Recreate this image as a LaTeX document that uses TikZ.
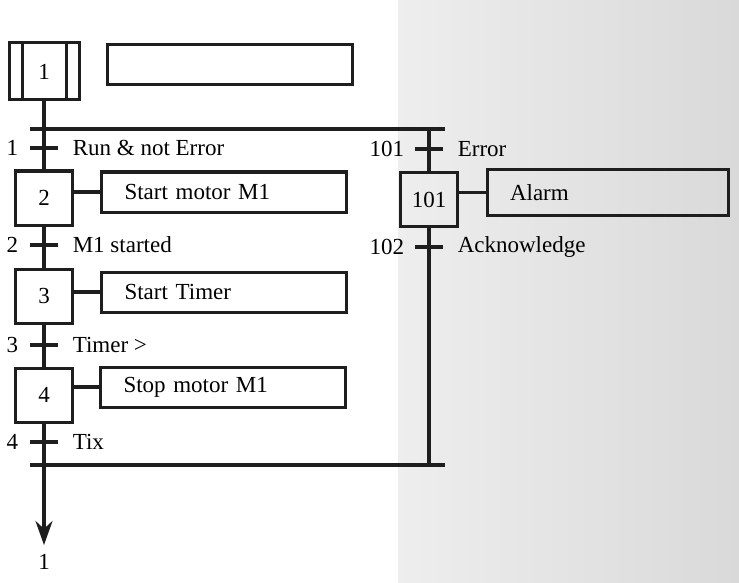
\documentclass[tikz,border=0pt]{standalone}
\usepackage{fontspec}
\setmainfont{Liberation Serif}
\usepackage{tikz}
\usetikzlibrary{arrows.meta,positioning,calc}
\definecolor{Ink}{HTML}{1E1E1E}
\definecolor{Scan}{HTML}{D9D9D9}
\newcommand{\grafcetfont}{\fontsize{11.5}{13}\selectfont}
\tikzset{
  stepbox/.style={draw=Ink,line width=1.5pt,minimum width=28.5pt,minimum height=27pt,
              inner sep=0pt,font=\grafcetfont},
  initbox/.style={stepbox,minimum width=35pt,minimum height=28.5pt,
              path picture={\draw[line width=1.5pt,draw=Ink]
                ([xshift=-11pt]path picture bounding box.north) -- ([xshift=-11pt]path picture bounding box.south)
                ([xshift=11pt]path picture bounding box.north) -- ([xshift=11pt]path picture bounding box.south);}},
  actbox/.style={draw=Ink,line width=1.5pt,minimum height=20pt,text width=99.5pt,
              inner xsep=11.5pt,inner ysep=0pt,align=left,font=\grafcetfont},
  trans/.style={fill=Ink,minimum width=14pt,minimum height=1.8pt,inner sep=0pt},
  tlabel/.style={inner sep=0pt,font=\grafcetfont},
  wire/.style={draw=Ink,line width=1.6pt},
  bar/.style={draw=Ink,line width=1.8pt},
  flow/.style={-{Stealth[length=12pt,width=8.5pt]},wire}
}
\begin{document}
\begin{tikzpicture}[x=0.5pt,y=-0.5pt]
  \useasboundingbox (0,0) rectangle (739,583);
  \shade[left color=Scan!45,right color=Scan] (398,0) rectangle (739,583);
  % main sequence
  \node[initbox] (s1) at (44,71.5) {1};
  \node[actbox] (a1) at (230,65) {};
  \node[trans] (t1) at (44,148) {};
  \node[stepbox] (s2) at (44,198) {2};
  \node[actbox] (a2) at (224,192) {Start motor M1};
  \node[trans] (t2) at (44,245) {};
  \node[stepbox] (s3) at (44,296) {3};
  \node[actbox] (a3) at (224,292) {Start Timer};
  \node[trans] (t3) at (44,345) {};
  \node[stepbox] (s4) at (44,395) {4};
  \node[actbox] (a4) at (223,387) {Stop motor M1};
  \node[trans] (t4) at (44,442) {};
  % error branch
  \node[trans] (t101) at (429,149) {};
  \node[stepbox] (s101) at (429,199.5) {101};
  \node[actbox,minimum height=22.5pt,text width=97.5pt] (a101) at (607.5,192.5) {Alarm};
  \node[trans] (t102) at (429,247) {};
  % transition labels
  \node[tlabel,left=5.5pt of t1] (n1) {1};
  \node[tlabel,right=7pt of t1] (c1) {Run \& not Error};
  \node[tlabel,left=5.5pt of t2] (n2) {2};
  \node[tlabel,right=7pt of t2] (c2) {M1 started};
  \node[tlabel,left=5.5pt of t3] (n3) {3};
  \node[tlabel,right=7pt of t3] (c3) {Timer >};
  \node[tlabel,left=5.5pt of t4] (n4) {4};
  \node[tlabel,right=7pt of t4] (c4) {Tix};
  \node[tlabel,left=5pt of t101] (n101) {101};
  \node[tlabel,right=7pt of t101] (c101) {Error};
  \node[tlabel,left=5pt of t102] (n102) {102};
  \node[tlabel,right=7pt of t102] (c102) {Acknowledge};
  % divergence and convergence
  \coordinate (divL) at (30,129);
  \coordinate (divR) at (445,129);
  \coordinate (convL) at (30,465);
  \coordinate (convR) at (445,465);
  \coordinate (d101) at (429,129);
  \coordinate (j101) at (429,465);
  \coordinate (tip) at (44,545);
  \node[tlabel] (ret) at (44,562) {1};
  \draw[bar] (divL) -- (divR);
  \draw[bar] (convL) -- (convR);
  \draw[wire] (s1) -- (t1) -- (s2) -- (t2) -- (s3) -- (t3) -- (s4) -- (t4);
  \draw[flow] (t4) -- (tip);
  \draw[wire] (d101) -- (t101) -- (s101) -- (t102) -- (j101);
  % actions
  \draw[wire] (a2.west -| s2.east) -- (a2.west);
  \draw[wire] (a3.west -| s3.east) -- (a3.west);
  \draw[wire] (a4.west -| s4.east) -- (a4.west);
  \draw[wire] (a101.west -| s101.east) -- (a101.west);
\end{tikzpicture}
\end{document}
